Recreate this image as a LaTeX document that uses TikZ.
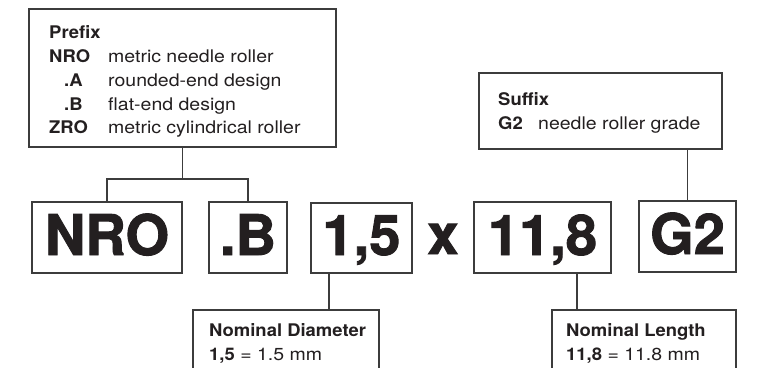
\documentclass[tikz,border=0pt]{standalone}
\usepackage{fontspec}
\setmainfont{TeX Gyre Heros}[UprightFeatures={FakeStretch=1.12},BoldFeatures={FakeStretch=1.06}]
\newfontfamily\bigfont{TeX Gyre Heros}[BoldFeatures={FakeBold=1.6}]
\definecolor{ink}{RGB}{35,31,32}
\definecolor{rule}{RGB}{60,60,60}
\begin{document}
\begin{tikzpicture}[x=1pt,y=-1pt,
  box/.style={draw=rule, line width=1.2pt, inner sep=0pt, outer sep=0pt, rectangle, fill=white},
  big/.style={anchor=base, inner sep=0pt, text=ink, font=\bigfont\bfseries\fontsize{56}{56}\selectfont},
  small/.style={anchor=base west, inner sep=0pt, text=ink, font=\fontsize{17.4}{20}\selectfont},
  smallb/.style={small, font=\bfseries\fontsize{17.4}{20}\selectfont},
  wire/.style={draw=rule, line width=1.2pt}]
\clip (0,0) rectangle (758,367);
\fill[white] (0,0) rectangle (758,367);
% boxes
\node[box, minimum width=307pt, minimum height=138pt] (pre) at (182.5,78) {};
\node[box, minimum width=243pt, minimum height=76pt] (suf) at (600.5,111) {};
\node[box, minimum width=150pt, minimum height=71pt] (nro) at (107,237.5) {};
\node[box, minimum width=78pt, minimum height=71pt] (dotb) at (248,237.5) {};
\node[box, minimum width=101pt, minimum height=70pt] (onefive) at (361.5,238) {};
\node[box, minimum width=137pt, minimum height=71pt] (eleven) at (542.5,237.5) {};
\node[box, minimum width=97pt, minimum height=71pt] (gtwo) at (687.5,236.5) {};
\node[box, minimum width=186pt, minimum height=100pt] (dia) at (286,360) {};
\node[box, minimum width=184pt, minimum height=100pt] (len) at (644,360) {};
% big code
\node[big] (tnro) at (107,255) {NRO};
\node[big] (tdotb) at (248,255) {.B};
\node[big] (tonefive) at (361.5,255) {1,5};
\node[big] (tx) at (443,254) {x};
\node[big] (televen) at (542.5,255) {11,8};
\node[big] (tgtwo) at (687.5,254) {G2};
% prefix text
\node[smallb] (p0) at (49,38) {Prefix};
\node[smallb] (p1) at (49,62) {NRO};
\node[small] (d1) at (108,62) {metric needle roller};
\node[smallb] (p2) at (64,86) {.A};
\node[small] (d2) at (108,86) {rounded-end design};
\node[smallb] (p3) at (64,110) {.B};
\node[small] (d3) at (108,110) {flat-end design};
\node[smallb] (p4) at (49,133) {ZRO};
\node[small] (d4) at (108,133) {metric cylindrical roller};
% suffix text
\node[smallb] (s0) at (498,105) {Suffix};
\node[smallb] (s1) at (498,129) {G2};
\node[small] (s2) at (538,129) {needle roller grade};
% diameter / length text
\node[smallb] (n0) at (209,336) {Nominal Diameter};
\node[small] (n1) at (209,360) {\textbf{1,5} = 1.5 mm};
\node[smallb] (l0) at (566,336) {Nominal Length};
\node[small] (l1) at (566,360) {\textbf{11,8} = 11.8 mm};
% connectors
\coordinate (jy) at (0,179);
\coordinate (dx) at (329,0);
\coordinate (lx) at (577,0);
\draw[wire] (pre.south) -- (jy -| pre.south);
\draw[wire] (nro.north) |- (jy -| pre.south) -| (dotb.north);
\draw[wire] (onefive.south -| dx) -- (dia.north -| dx);
\draw[wire] (eleven.south -| lx) -- (len.north -| lx);
\draw[wire] (suf.south -| gtwo.north) -- (gtwo.north);
\end{tikzpicture}
\end{document}
